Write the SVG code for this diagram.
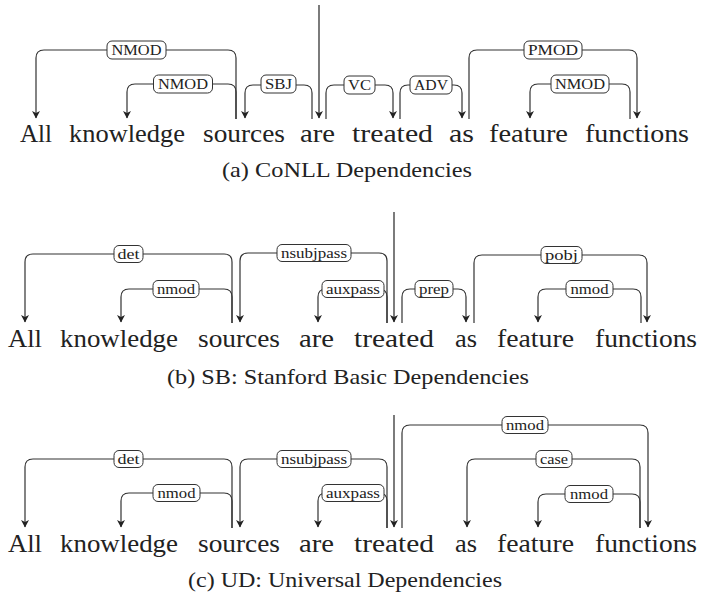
<svg xmlns="http://www.w3.org/2000/svg" width="704" height="594" viewBox="0 0 704 594">
<style>
.w{font-family:"Liberation Serif","Times New Roman",serif;font-size:25px;fill:#222}
.cap{font-family:"Liberation Serif","Times New Roman",serif;font-size:21px;fill:#222}
.lb rect{fill:#fff;stroke:#333;stroke-width:1}
.lb text{font-family:"Liberation Serif","Times New Roman",serif;font-size:15px;fill:#222;text-anchor:middle}
.e{fill:none;stroke:#333;stroke-width:1.2;marker-end:url(#ah)}
.root{stroke:#444;stroke-width:1.4}
</style>
<defs>
<marker id="ah" markerUnits="userSpaceOnUse" viewBox="-8 -5 10 10" markerWidth="10" markerHeight="10" refX="0" refY="0" orient="auto">
<path d="M0.5,0 L-7,-4 L-5,0 L-7,4 Z" fill="#222"/>
</marker>
</defs>
<rect width="704" height="594" fill="#fff"/>

<!-- Panel (a) words -->
<g id="a-All"><text class="w" x="20" y="142" textLength="32" lengthAdjust="spacingAndGlyphs">All</text></g>
<g id="a-knowledge"><text class="w" x="69" y="142" textLength="116" lengthAdjust="spacingAndGlyphs">knowledge</text></g>
<g id="a-sources"><text class="w" x="203" y="142" textLength="82" lengthAdjust="spacingAndGlyphs">sources</text></g>
<g id="a-are"><text class="w" x="300" y="142" textLength="35" lengthAdjust="spacingAndGlyphs">are</text></g>
<g id="a-treated"><text class="w" x="352" y="142" textLength="81" lengthAdjust="spacingAndGlyphs">treated</text></g>
<g id="a-as"><text class="w" x="449" y="142" textLength="25" lengthAdjust="spacingAndGlyphs">as</text></g>
<g id="a-feature"><text class="w" x="489" y="142" textLength="79" lengthAdjust="spacingAndGlyphs">feature</text></g>
<g id="a-functions"><text class="w" x="585" y="142" textLength="104" lengthAdjust="spacingAndGlyphs">functions</text></g>
<text class="cap" x="222" y="177" textLength="250" lengthAdjust="spacingAndGlyphs">(a) CoNLL Dependencies</text>

<!-- Panel (b) words -->
<g id="b-All"><text class="w" x="8" y="347" textLength="34" lengthAdjust="spacingAndGlyphs">All</text></g>
<g id="b-knowledge"><text class="w" x="60" y="347" textLength="118" lengthAdjust="spacingAndGlyphs">knowledge</text></g>
<g id="b-sources"><text class="w" x="198" y="347" textLength="82" lengthAdjust="spacingAndGlyphs">sources</text></g>
<g id="b-are"><text class="w" x="299" y="347" textLength="35" lengthAdjust="spacingAndGlyphs">are</text></g>
<g id="b-treated"><text class="w" x="354" y="347" textLength="80" lengthAdjust="spacingAndGlyphs">treated</text></g>
<g id="b-as"><text class="w" x="455" y="347" textLength="22" lengthAdjust="spacingAndGlyphs">as</text></g>
<g id="b-feature"><text class="w" x="497" y="347" textLength="77" lengthAdjust="spacingAndGlyphs">feature</text></g>
<g id="b-functions"><text class="w" x="595" y="347" textLength="102" lengthAdjust="spacingAndGlyphs">functions</text></g>
<text class="cap" x="167" y="384" textLength="362" lengthAdjust="spacingAndGlyphs">(b) SB: Stanford Basic Dependencies</text>

<!-- Panel (c) words -->
<g id="c-All"><text class="w" x="8" y="552" textLength="34" lengthAdjust="spacingAndGlyphs">All</text></g>
<g id="c-knowledge"><text class="w" x="60" y="552" textLength="118" lengthAdjust="spacingAndGlyphs">knowledge</text></g>
<g id="c-sources"><text class="w" x="198" y="552" textLength="82" lengthAdjust="spacingAndGlyphs">sources</text></g>
<g id="c-are"><text class="w" x="299" y="552" textLength="35" lengthAdjust="spacingAndGlyphs">are</text></g>
<g id="c-treated"><text class="w" x="354" y="552" textLength="80" lengthAdjust="spacingAndGlyphs">treated</text></g>
<g id="c-as"><text class="w" x="455" y="552" textLength="22" lengthAdjust="spacingAndGlyphs">as</text></g>
<g id="c-feature"><text class="w" x="497" y="552" textLength="77" lengthAdjust="spacingAndGlyphs">feature</text></g>
<g id="c-functions"><text class="w" x="595" y="552" textLength="102" lengthAdjust="spacingAndGlyphs">functions</text></g>
<text class="cap" x="188" y="587" textLength="314" lengthAdjust="spacingAndGlyphs">(c) UD: Universal Dependencies</text>

<g id="connectors">
<!-- (a) -->
<path class="e" d="M236,119 V58 Q236,50 228,50 H44 Q36,50 36,58 V118"/>
<path class="e" d="M236,119 V92 Q236,84 228,84 H135 Q127,84 127,92 V118"/>
<path class="e" d="M312,119 V93 Q312,85 304,85 H253 Q245,85 245,93 V118"/>
<path class="e root" d="M319,5 V118"/>
<path class="e" d="M326,119 V93 Q326,85 334,85 H385 Q393,85 393,93 V118"/>
<path class="e" d="M400,119 V93 Q400,85 408,85 H454 Q462,85 462,93 V118"/>
<path class="e" d="M469,119 V58 Q469,50 477,50 H629 Q637,50 637,58 V118"/>
<path class="e" d="M630,119 V92 Q630,84 622,84 H538 Q530,84 530,92 V118"/>
<!-- (b) -->
<path class="e" d="M232,323 V262 Q232,254 224,254 H33 Q25,254 25,262 V322"/>
<path class="e" d="M232,323 V297 Q232,289 224,289 H129 Q121,289 121,297 V322"/>
<path class="e" d="M387,323 V261 Q387,253 379,253 H248 Q240,253 240,261 V322"/>
<path class="e" d="M387,323 V297 Q387,289 379,289 H326 Q318,289 318,297 V322"/>
<path class="e root" d="M394,212 V322"/>
<path class="e" d="M402,323 V297 Q402,289 410,289 H458 Q466,289 466,297 V322"/>
<path class="e" d="M474,323 V263 Q474,255 482,255 H639 Q647,255 647,263 V322"/>
<path class="e" d="M641,323 V297 Q641,289 633,289 H546 Q538,289 538,297 V322"/>
<!-- (c) -->
<path class="e" d="M232,528 V467 Q232,459 224,459 H33 Q25,459 25,467 V527"/>
<path class="e" d="M232,528 V501 Q232,493 224,493 H129 Q121,493 121,501 V527"/>
<path class="e" d="M387,528 V467 Q387,459 379,459 H248 Q240,459 240,467 V527"/>
<path class="e" d="M387,528 V501 Q387,493 379,493 H326 Q318,493 318,501 V527"/>
<path class="e root" d="M394,415 V527"/>
<path class="e" d="M402,528 V433 Q402,425 410,425 H640 Q648,425 648,433 V527"/>
<path class="e" d="M640,528 V467 Q640,459 632,459 H475 Q467,459 467,467 V527"/>
<path class="e" d="M640,528 V502 Q640,494 632,494 H546 Q538,494 538,502 V527"/>
</g>

<g id="labels" class="lb">
<!-- (a) -->
<rect x="107" y="41" width="59" height="18" rx="5"/><text x="136.5" y="55" textLength="50" lengthAdjust="spacingAndGlyphs">NMOD</text>
<rect x="153.5" y="75" width="59" height="18" rx="5"/><text x="183" y="89" textLength="50" lengthAdjust="spacingAndGlyphs">NMOD</text>
<rect x="261" y="75" width="35" height="18" rx="5"/><text x="278.5" y="89" textLength="27" lengthAdjust="spacingAndGlyphs">SBJ</text>
<rect x="344" y="76" width="31" height="18" rx="5"/><text x="359.5" y="90" textLength="23" lengthAdjust="spacingAndGlyphs">VC</text>
<rect x="410" y="76" width="42" height="18" rx="5"/><text x="431" y="90" textLength="34" lengthAdjust="spacingAndGlyphs">ADV</text>
<rect x="524" y="41" width="58" height="18" rx="5"/><text x="553" y="55" textLength="50" lengthAdjust="spacingAndGlyphs">PMOD</text>
<rect x="551" y="75" width="58" height="18" rx="5"/><text x="580" y="89" textLength="50" lengthAdjust="spacingAndGlyphs">NMOD</text>
<!-- (b) -->
<rect x="114" y="245.5" width="29" height="17" rx="5"/><text x="128.5" y="258.5" textLength="22" lengthAdjust="spacingAndGlyphs">det</text>
<rect x="153" y="280.5" width="46" height="17" rx="5"/><text x="176" y="293.5" textLength="38" lengthAdjust="spacingAndGlyphs">nmod</text>
<rect x="277" y="244.5" width="74" height="17" rx="5"/><text x="314" y="257.5" textLength="66" lengthAdjust="spacingAndGlyphs">nsubjpass</text>
<rect x="322" y="280.5" width="62" height="17" rx="5"/><text x="353" y="293.5" textLength="54" lengthAdjust="spacingAndGlyphs">auxpass</text>
<rect x="415" y="280.5" width="38" height="17" rx="5"/><text x="434" y="293.5" textLength="30" lengthAdjust="spacingAndGlyphs">prep</text>
<rect x="541" y="246.5" width="41" height="17" rx="5"/><text x="561.5" y="259.5" textLength="33" lengthAdjust="spacingAndGlyphs">pobj</text>
<rect x="566" y="280.5" width="47" height="17" rx="5"/><text x="589.5" y="293.5" textLength="38" lengthAdjust="spacingAndGlyphs">nmod</text>
<!-- (c) -->
<rect x="114" y="450.5" width="29" height="17" rx="5"/><text x="128.5" y="463.5" textLength="22" lengthAdjust="spacingAndGlyphs">det</text>
<rect x="153" y="484.5" width="47" height="17" rx="5"/><text x="176.5" y="497.5" textLength="38" lengthAdjust="spacingAndGlyphs">nmod</text>
<rect x="277" y="450.5" width="74" height="17" rx="5"/><text x="314" y="463.5" textLength="66" lengthAdjust="spacingAndGlyphs">nsubjpass</text>
<rect x="322" y="484.5" width="62" height="17" rx="5"/><text x="353" y="497.5" textLength="54" lengthAdjust="spacingAndGlyphs">auxpass</text>
<rect x="502" y="416.5" width="46" height="17" rx="5"/><text x="525" y="429.5" textLength="38" lengthAdjust="spacingAndGlyphs">nmod</text>
<rect x="536" y="450.5" width="36" height="17" rx="5"/><text x="554" y="463.5" textLength="28" lengthAdjust="spacingAndGlyphs">case</text>
<rect x="565" y="485.5" width="48" height="17" rx="5"/><text x="589" y="498.5" textLength="38" lengthAdjust="spacingAndGlyphs">nmod</text>
</g>
</svg>
